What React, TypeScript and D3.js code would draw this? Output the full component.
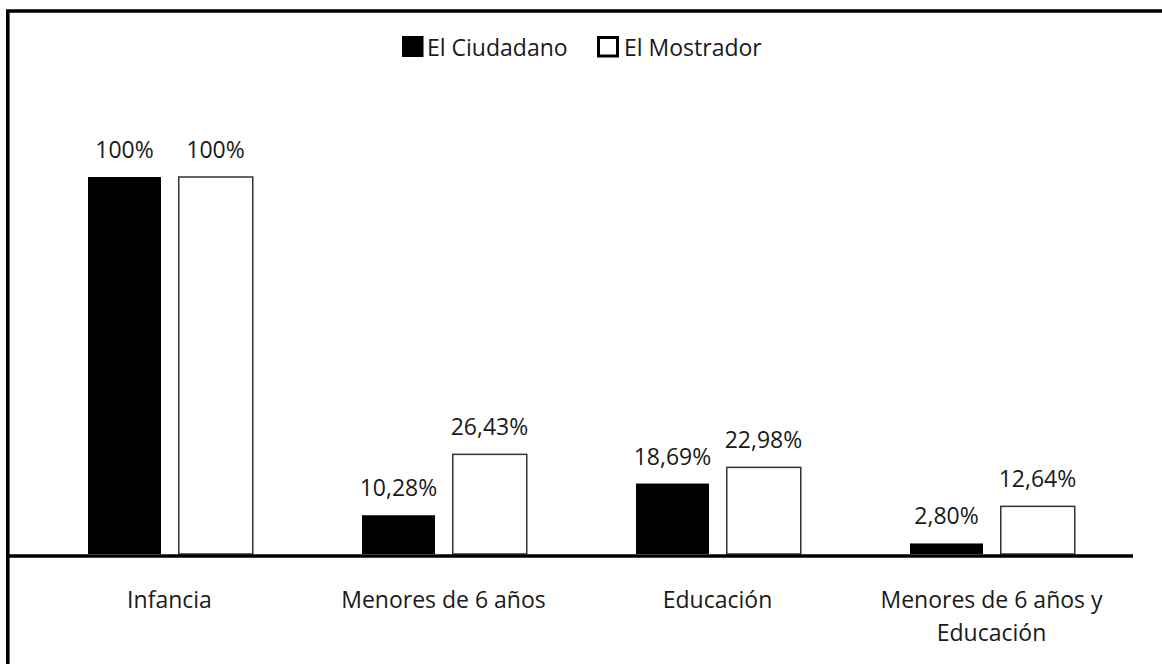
import React from "react";
import * as d3 from "d3";

const categories: string[][] = [
  ["Infancia"],
  ["Menores de 6 años"],
  ["Educación"],
  ["Menores de 6 años y", "Educación"],
];
const seriesNames = ["El Ciudadano", "El Mostrador"];
const ciudadano = [100, 10.28, 18.69, 2.8];
const mostrador = [100, 26.43, 22.98, 12.64];
const ciudadanoLabels = ["100%", "10,28%", "18,69%", "2,80%"];
const mostradorLabels = ["100%", "26,43%", "22,98%", "12,64%"];

const W = 1162;
const H = 664;
const FONT = "'Open Sans', sans-serif";
const FS = 23;

export default function App() {
  const x = d3
    .scaleBand<number>()
    .domain(d3.range(categories.length))
    .range([32.5, 1128.5]);
  const y = d3.scaleLinear().domain([0, 100]).range([554, 177]);
  const step = x.bandwidth();
  const barW = 73;
  const gap = 17;
  const inner = d3
    .scaleOrdinal<number, number>()
    .domain([0, 1])
    .range([(step - (2 * barW + gap)) / 2, (step - (2 * barW + gap)) / 2 + barW + gap]);

  const series = [
    { values: ciudadano, labels: ciudadanoLabels, fill: "#000", stroke: "#000" },
    { values: mostrador, labels: mostradorLabels, fill: "#fff", stroke: "#333" },
  ];

  return (
    <svg
      width={W}
      height={H}
      style={{ position: "absolute", left: 0, top: 0, background: "#fff" }}
      fontFamily={FONT}
    >
      <rect x={0} y={0} width={W} height={H} fill="#fff" />
      {/* frame */}
      <path d={`M7.8,${H + 10} V11 H${W + 10}`} fill="none" stroke="#000" strokeWidth={3.6} />

      {/* legend */}
      <g>
        <rect x={402} y={36} width={21.5} height={21} fill="#000" />
        <text x={427} y={56} fontSize={FS} fill="#1a1a1a">
          {seriesNames[0]}
        </text>
        <rect x={598.5} y={37.5} width={19} height={18.5} fill="#fff" stroke="#000" strokeWidth={3} />
        <text x={624} y={56} fontSize={FS} fill="#1a1a1a">
          {seriesNames[1]}
        </text>
      </g>

      {/* bars */}
      {series.map((s, si) => (
        <g key={si}>
          {s.values.map((v, i) => {
            const bx = (x(i) as number) + inner(si);
            const top = y(v);
            const isWhite = si === 1;
            return (
              <g key={i}>
                {isWhite ? (
                  <rect
                    x={bx + 0.75}
                    y={top}
                    width={barW + 1}
                    height={y(0) - top}
                    fill={s.fill}
                    stroke={s.stroke}
                    strokeWidth={1.5}
                  />
                ) : (
                  <rect x={bx} y={top} width={barW} height={y(0) - top} fill={s.fill} />
                )}
                <text
                  x={bx + barW / 2 + (isWhite ? 1 : 0)}
                  y={top - 19}
                  textAnchor="middle"
                  fontSize={FS}
                  fill="#1a1a1a"
                >
                  {s.labels[i]}
                </text>
              </g>
            );
          })}
        </g>
      ))}

      {/* axis line */}
      <line x1={8} x2={1133} y1={556} y2={556} stroke="#000" strokeWidth={3.5} />

      {/* category labels */}
      {categories.map((lines, i) => (
        <text
          key={i}
          x={(x(i) as number) + step / 2}
          y={608}
          textAnchor="middle"
          fontSize={FS}
          fill="#1a1a1a"
        >
          {lines.map((l, li) => (
            <tspan key={li} x={(x(i) as number) + step / 2} dy={li === 0 ? 0 : 33}>
              {l}
            </tspan>
          ))}
        </text>
      ))}
    </svg>
  );
}
